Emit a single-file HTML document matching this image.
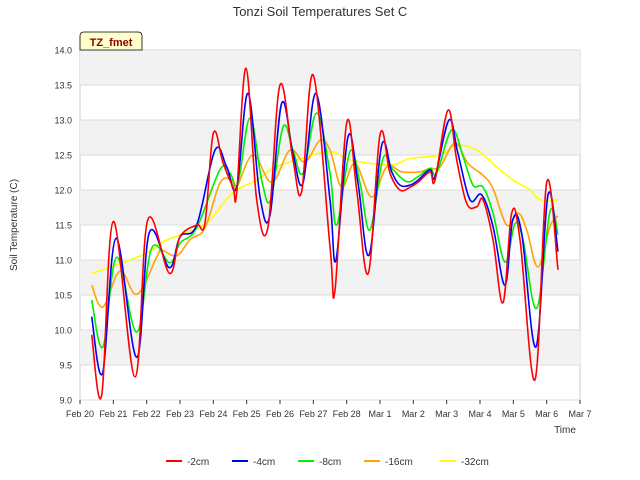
<!DOCTYPE html>
<html><head><meta charset="utf-8"><style>
body{margin:0;background:#fff;}
svg{display:block;font-family:"Liberation Sans",sans-serif;}
</style></head><body>
<svg id="chart" width="640" height="480" viewBox="0 0 640 480">
<text x="320" y="16" text-anchor="middle" font-size="13" fill="#333">Tonzi Soil Temperatures Set C</text>
<g id="bands"></g><g id="grid"></g><g id="axes"></g><g id="series"></g>
<g>
<path d="M80,50 L80,36 Q80,32 84,32 L138,32 Q142,32 142,36 L142,50 Z" fill="#ffffcc" stroke="#000" stroke-width="0.8"/>
<text x="111" y="46" text-anchor="middle" font-size="11" font-weight="bold" fill="#8b0000">TZ_fmet</text></g>
<text x="565" y="433" text-anchor="middle" font-size="10" fill="#333">Time</text>
<text transform="translate(17,225) rotate(-90)" text-anchor="middle" font-size="10" fill="#333">Soil Temperature (C)</text>
<g id="legend"></g>
</svg>
<script>
const xTicks=["Feb 20","Feb 21","Feb 22","Feb 23","Feb 24","Feb 25","Feb 26","Feb 27","Feb 28","Mar 1","Mar 2","Mar 3","Mar 4","Mar 5","Mar 6","Mar 7"];
const yTicks=[9.0,9.5,10.0,10.5,11.0,11.5,12.0,12.5,13.0,13.5,14.0];
const seriesNames=["-2cm","-4cm","-8cm","-16cm","-32cm"];
const t2=[0.35,0.65,1.0,1.65,2.03,2.68,3.0,3.5,3.75,4.0,4.29,4.59,4.7,4.98,5.3,5.64,6.0,6.39,6.65,7.0,7.5,7.65,8.0,8.3,8.65,9.0,9.3,9.6,9.9,10.14,10.5,10.65,11.04,11.3,11.6,11.9,12.09,12.39,12.69,12.95,13.2,13.65,14.0,14.34];
const v2=[9.93,9.07,11.55,9.33,11.57,10.81,11.33,11.5,11.53,12.81,12.39,12.04,11.96,13.74,11.86,11.47,13.5,12.43,11.98,13.64,11.19,10.57,12.96,12.0,10.81,12.79,12.24,12.0,12.04,12.11,12.26,12.14,13.14,12.43,11.81,11.76,11.86,11.29,10.39,11.67,11.29,9.29,12.11,10.86];
const t4=[0.35,0.68,1.08,1.7,2.08,2.68,3.0,3.5,4.05,4.4,4.7,5.04,5.4,5.7,6.05,6.39,6.69,7.08,7.5,7.68,8.04,8.34,8.67,9.05,9.35,9.6,9.9,10.14,10.5,10.65,11.07,11.34,11.7,12.05,12.39,12.75,12.98,13.25,13.68,14.04,14.34];
const v4=[10.19,9.39,11.31,9.61,11.39,10.89,11.33,11.5,12.57,12.33,12.04,13.38,11.9,11.64,13.24,12.52,12.1,13.38,11.86,11.0,12.76,12.1,11.07,12.64,12.26,12.07,12.07,12.14,12.29,12.19,13.0,12.52,11.86,11.93,11.48,10.64,11.57,11.38,9.76,11.93,11.12];
const t8=[0.35,0.69,1.1,1.7,2.15,2.7,3.0,3.5,4.2,4.5,4.74,5.1,5.45,5.72,6.09,6.39,6.69,7.1,7.5,7.7,8.1,8.4,8.7,9.09,9.39,9.8,10.14,10.5,10.7,11.15,11.49,11.79,12.09,12.39,12.75,13.05,13.29,13.7,14.1,14.34];
const v8=[10.43,9.76,11.04,9.97,11.17,10.96,11.24,11.46,12.29,12.24,12.1,13.03,12.14,11.86,12.9,12.57,12.24,13.1,12.24,11.5,12.55,12.1,11.43,12.45,12.29,12.12,12.19,12.31,12.24,12.86,12.48,12.07,12.04,11.67,10.97,11.52,11.29,10.31,11.69,11.36];
const t16=[0.35,0.69,1.2,1.71,2.3,2.45,2.9,3.3,3.75,4.2,4.55,4.7,5.19,5.75,6.3,6.75,7.2,7.5,7.85,8.25,8.75,9.2,9.65,10.2,10.5,10.8,11.25,11.64,12.09,12.39,12.8,13.14,13.4,13.74,14.1,14.34];
const v16=[10.64,10.33,10.84,10.51,11.04,11.14,11.06,11.29,11.46,12.1,12.14,12.04,12.5,12.11,12.57,12.4,12.71,12.57,12.04,12.38,11.9,12.33,12.26,12.26,12.31,12.33,12.67,12.38,12.21,12.02,11.5,11.67,11.43,10.9,11.48,11.63];
const t32=[0.35,1.1,2.0,2.49,3.0,3.8,4.59,5.3,5.79,6.5,7.5,8.1,9.3,9.9,10.8,11.3,11.9,12.5,13.0,13.5,13.8,14.34];
const v32=[10.81,10.93,11.1,11.26,11.36,11.53,11.96,12.14,12.31,12.43,12.55,12.43,12.36,12.45,12.5,12.64,12.57,12.33,12.14,12.0,11.86,11.86];
const colors=["#ff0000","#0000ff","#00ee00","#ffa500","#ffff00"];
const NS="http://www.w3.org/2000/svg";
const L=80,R=580,T=50,B=400,yMin=9,yMax=14,days=15;
function xS(d){return L+(R-L)*d/days;}
function yS(v){return B-(B-T)*(v-yMin)/(yMax-yMin);}
function mk(tag,attrs,parent){const e=document.createElementNS(NS,tag);for(const k in attrs)e.setAttribute(k,attrs[k]);parent.appendChild(e);return e;}
function smooth(P){
  let d='M'+P[0][0].toFixed(1)+','+P[0][1].toFixed(1);
  const k=0.18;
  for(let i=0;i<P.length-1;i++){
    const p0=P[Math.max(0,i-1)],p1=P[i],p2=P[i+1],p3=P[Math.min(P.length-1,i+2)];
    const c1=[p1[0]+(p2[0]-p0[0])*k,p1[1]+(p2[1]-p0[1])*k];
    const c2=[p2[0]-(p3[0]-p1[0])*k,p2[1]-(p3[1]-p1[1])*k];
    d+=' C'+c1[0].toFixed(1)+','+c1[1].toFixed(1)+' '+c2[0].toFixed(1)+','+c2[1].toFixed(1)+' '+p2[0].toFixed(1)+','+p2[1].toFixed(1);
  }
  return d;
}
const bands=document.getElementById('bands'),grid=document.getElementById('grid'),axes=document.getElementById('axes'),ser=document.getElementById('series'),leg=document.getElementById('legend');
mk('rect',{x:L,y:T,width:R-L,height:B-T,fill:'#fff',stroke:'#ccc'},bands);
for(let i=0;i<yTicks.length-1;i++){
  if(i%2===1){const r=mk('rect',{x:L,y:yS(yTicks[i+1]),width:R-L,height:yS(yTicks[i])-yS(yTicks[i+1]),fill:'#f2f2f2'},bands);
  
  }
}
yTicks.forEach(v=>{
  const y=yS(v);
  const g=mk('line',{x1:L,x2:R,y1:y,y2:y,stroke:'#dcdcdc','stroke-width':1},grid);
  
  
  const t=mk('text',{x:72,y:y+3.5,'text-anchor':'end','font-size':9,fill:'#333'},axes);
  t.textContent=v.toFixed(1);
  
  
});
xTicks.forEach((lab,i)=>{
  const x=xS(i);
  mk('line',{x1:x,x2:x,y1:B,y2:B+4,stroke:'#333'},axes);
  const t=mk('text',{x:x,y:B+17,'text-anchor':'middle','font-size':9,fill:'#333'},axes);
  t.textContent=lab;
  
  
});
const allT=[t2,t4,t8,t16,t32],allV=[v2,v4,v8,v16,v32];
const order=[4,3,2,1,0];
order.forEach(i=>{
  const P=allT[i].map((d,j)=>[xS(d),yS(allV[i][j])]);
  const p=mk('path',{d:smooth(P),fill:'none',stroke:colors[i],'stroke-width':1.6,'stroke-linejoin':'round'},ser);
  
  
});
const lx=[166,232,298,364,440];
seriesNames.forEach((n,i)=>{
  const g=mk('g',{},leg);
  
  
  mk('line',{x1:lx[i],x2:lx[i]+16,y1:461,y2:461,stroke:colors[i],'stroke-width':2},g);
  const t=mk('text',{x:lx[i]+21,y:465,'font-size':10,fill:'#333'},g);
  t.textContent=n;
});
</script>
</body></html>
